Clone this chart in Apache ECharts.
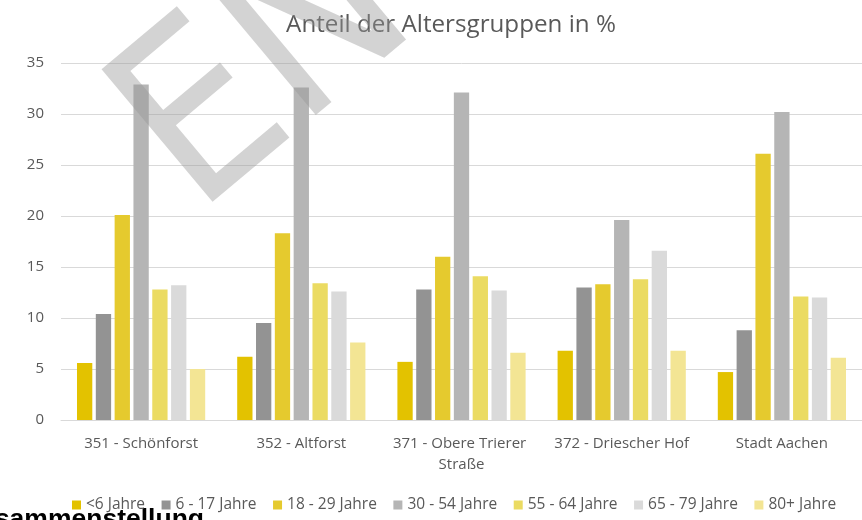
<!DOCTYPE html>
<html>
<head>
<meta charset="utf-8">
<script src="https://cdn.jsdelivr.net/npm/echarts@6/dist/echarts.min.js"></script>
<style>
  html, body { margin: 0; padding: 0; background: #ffffff; }
  #chart { width: 862px; height: 520px; }
</style>
</head>
<body>
<div id="chart"></div>
<script>
// Districts compared
const categories = ['351 - Schönforst', '352 - Altforst', '371 - Obere Trierer Straße', '372 - Driescher Hof', 'Stadt Aachen'];

// Age groups (legend order)
const ageGroups = ['<6 Jahre', '6 - 17 Jahre', '18 - 29 Jahre', '30 - 54 Jahre', '55 - 64 Jahre', '65 - 79 Jahre', '80+ Jahre'];

// Share of each age group per district, in %
const under6     = [5.6, 6.2, 5.7, 6.8, 4.7];
const age6to17   = [10.4, 9.5, 12.8, 13.0, 8.8];
const age18to29  = [20.1, 18.3, 16.0, 13.3, 26.1];
const age30to54  = [32.9, 32.6, 32.1, 19.6, 30.2];
const age55to64  = [12.8, 13.4, 14.1, 13.8, 12.1];
const age65to79  = [13.2, 12.6, 12.7, 16.6, 12.0];
const age80plus  = [5.0, 7.6, 6.6, 6.8, 6.1];

// Y axis ticks
const yMin = 0, yMax = 35, yStep = 5;

const seriesValues = [under6, age6to17, age18to29, age30to54, age55to64, age65to79, age80plus];
const colors = ['#e3c200', '#939393', '#e5ca2e', '#b5b5b5', '#ebdb62', '#dadada', '#f3e594'];

const FONT = '"Open Sans", "Noto Sans", sans-serif';
const TEXT_GREY = '#595959';

const chart = echarts.init(document.getElementById('chart'), null, { renderer: 'canvas' });

chart.setOption({
  animation: false,
  backgroundColor: '#ffffff',
  color: colors,
  title: {
    text: 'Anteil der Altersgruppen in %',
    left: 446,
    top: 8,
    textAlign: 'center',
    textStyle: { fontFamily: FONT, fontSize: 24.2, fontWeight: 'normal', color: TEXT_GREY }
  },
  legend: {
    data: ageGroups,
    left: 67,
    top: 492,
    icon: 'rect',
    itemWidth: 9,
    itemHeight: 9,
    itemGap: 16.5,
    textStyle: { fontFamily: FONT, fontSize: 15.5, color: TEXT_GREY }
  },
  grid: { left: 61, top: 63, width: 805, height: 357, containLabel: false },
  xAxis: {
    type: 'category',
    data: categories,
    axisLine: { show: true, lineStyle: { color: '#d9d9d9', width: 1 } },
    axisTick: { show: false },
    axisLabel: {
      fontFamily: FONT, fontSize: 15, color: TEXT_GREY,
      margin: 13, lineHeight: 21, interval: 0,
      width: 150, overflow: 'break'
    }
  },
  yAxis: {
    type: 'value',
    min: yMin, max: yMax, interval: yStep,
    axisLine: { show: false },
    axisTick: { show: false },
    splitLine: { lineStyle: { color: '#d9d9d9', width: 1 } },
    axisLabel: { fontFamily: FONT, fontSize: 15, color: TEXT_GREY, margin: 17 }
  },
  series: ageGroups.map((name, i) => ({
    name: name,
    type: 'bar',
    data: seriesValues[i],
    barWidth: 15.3,
    barGap: '23%',
    itemStyle: { color: colors[i] }
  })),
  graphic: [
    {
      // draft watermark across the upper left
      type: 'text',
      x: 157,
      y: 168,
      rotation: 0.698,
      z: 100,
      silent: true,
      style: {
        text: 'ENTWURF',
        font: '237px "Liberation Sans Narrow", "DejaVu Sans Condensed", "Liberation Sans", sans-serif',
        fill: 'rgba(150,150,150,0.42)',
        textAlign: 'left',
        textVerticalAlign: 'middle'
      }
    },
    {
      // heading of the following page section
      type: 'text',
      x: 204,
      y: 520,
      silent: true,
      style: {
        text: 'Zusammenstellung',
        font: 'bold 26.5px "Liberation Sans", Arial, sans-serif',
        fill: '#000000',
        textAlign: 'right',
        textVerticalAlign: 'middle'
      }
    }
  ]
});
</script>
</body>
</html>
